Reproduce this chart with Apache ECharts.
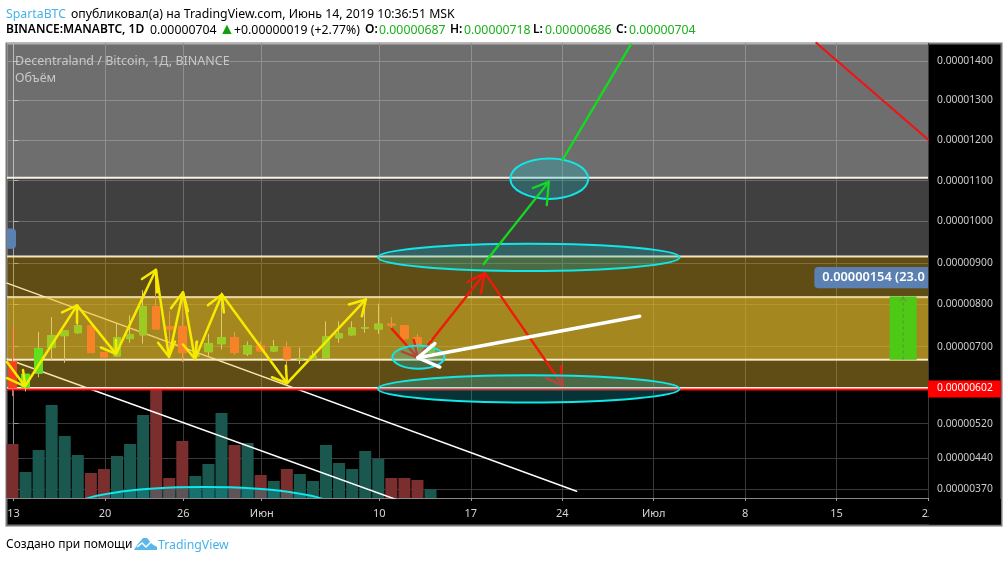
<!DOCTYPE html>
<html><head><meta charset="utf-8">
<style>html,body{margin:0;padding:0;background:#fff}#c{width:1008px;height:562px}</style>
<script src="https://cdn.jsdelivr.net/npm/echarts@6/dist/echarts.min.js"></script>
</head><body><div id="c"></div>
<script>
// ---- axis ticks
const priceTicks = [1400,1300,1200,1100,1000,900,800,700,520,440,370];
const lastPrice = 602;
const priceMin = 349.6, priceMax = 1446;
const timeTickDays = [0,7,13,19,28,35,42,49,56,63,70];
const timeTickLabels = ['13','20','26','Июн','10','17','24','Июл','8','15','22'];
// ---- candles: open, close, low, high (1e-8 BTC), day index from 13 May
const opens  = [664,604,638,698,726,733,749,686,678,719,728,795,747,747,678,688,707,721,683,702,690,698,671,671,674,721,728,744,742,753,749,721,687];
const closes = [604,635,695,726,737,749,686,676,721,728,795,742,742,686,681,707,721,686,702,690,700,671,672,678,723,730,744,745,753,751,719,702,704];
const lows   = [584,595,628,667,662,730,686,676,676,709,707,742,676,664,667,676,693,681,678,688,688,616,659,669,674,709,726,733,730,740,716,681,686];
const highs  = [749,635,735,770,737,798,749,686,756,774,834,883,784,829,712,730,829,735,712,712,716,712,698,690,760,760,760,810,802,770,751,730,718];
// ---- volume (relative units), direction flag
const volumes = [54,26,48,93,62,43,25,29,42,54,83,110,20,57,22,34,85,53,55,23,17,29,24,17,53,35,29,47,39,20,20,18,9];
const volumeDirs = ['d','u','u','u','u','u','d','d','u','u','u','d','d','d','u','u','u','d','u','d','u','d','u','u','u','u','u','u','u','d','d','d','u'];
// ---- price zones (edges, top to bottom)
const zoneEdges = [1446,1107,915,817,669,603];
const zoneFills = ['rgba(255,255,255,0.43)','rgba(255,255,255,0.25)','rgba(232,186,54,0.41)','rgba(232,190,44,0.71)','rgba(232,186,54,0.41)'];
// ---- drawings: [day, price]
const trendLineA = [[-0.5,851],[43.1,365]];
const trendLineB = [[-0.5,671],[29.4,345]];
const redDiagonal = [[61.46,1446],[70,1202]];
const yellowPath = [[-0.5,664],[0.88,607],[4.86,798],[7.84,683],[10.9,883],[11.9,676],[12.97,829],[13.89,671],[15.95,824],[20.93,614],[26.97,812]];
const yellowHeads = [
 [[-0.5,626],[0.88,607],[0.73,645]], [[3.71,781],[4.86,798],[4.86,756]],
 [[6.69,698],[7.84,683],[7.84,716]], [[9.83,861],[10.9,883],[10.98,829]],
 [[11.06,709],[11.9,676],[12.36,712]], [[12.05,791],[12.97,829],[13.35,784]],
 [[12.97,705],[13.89,671],[14.04,712]], [[14.88,798],[15.95,824],[16.1,781]],
 [[19.78,628],[20.93,614],[20.85,655]], [[25.67,800],[26.97,812],[26.66,772]]];
const redPath = [[[28.96,742],[30.95,674]],[[30.95,674],[36.08,875]],[[36.08,875],[42.04,609]]];
const redHeads = [[[29.72,688],[30.95,674],[30.64,716]],[[34.77,854],[36.08,875],[35.77,827]],[[40.74,626],[42.04,609],[41.89,654]]];
const whiteArrow = [[47.93,772],[30.95,674]];
const whiteHead = [[32.25,707],[30.95,674],[32.63,652]];
const greenArrow = [[35.99,897],[40.97,1097]];
const greenHead = [[39.75,1082],[40.97,1097],[40.82,1040]];
const greenLine = [[42.04,1152],[47.25,1442]];
// ---- ellipses: centre day, centre price, edge day, top price
const ellipses = [[41.01,1105,43.99,1155],[39.44,913,50.99,946],[39.44,601,50.99,633],[30.99,675,32.98,702],[14.58,329,24.52,374.5]];
// ---- measure tool
const measureBox = [67.06,819,69.13,669];
const measureMidDay = 68.1;
const measureLabel = [61.3,890,72,839,'0.00000154 (23.0'];
const leftTab = [-2,983,0.19,934];

// a mild curvature of the reference's price scale
const K = 20040;
const pos = v => v - v*v/K;
const inv = p => K/2*(1-Math.sqrt(1-4*p/K));
const map = pts => pts.map(([d,p]) => [d,pos(p)]);

const FONT = '"Noto Sans", sans-serif';
const barOffset = -0.08;           // bars sit a hair left of the date ticks
const days = opens.map((_,i)=>i);
const upC='#9ccb22', downC='#f88228', brightUp=[1,2], hotDown=[0];

function lineS(pts,color,width,z){
  return {type:'line',data:map(pts),xAxisIndex:0,yAxisIndex:0,symbol:'none',silent:true,animation:false,z,
    lineStyle:{color,width,cap:'round',join:'round'}};
}
const bodyData = days.map(i=>{
  const col = brightUp.includes(i)?'#5fe21e':hotDown.includes(i)?'#f4431c':(closes[i]>=opens[i]?upC:downC);
  return {value:[i+barOffset,pos(opens[i]),pos(closes[i]),pos(Math.min(opens[i],closes[i])),pos(Math.max(opens[i],closes[i]))],
    itemStyle:{color:col,color0:col,borderColor:col,borderColor0:col}};
});
const wickData = days.map(i=>{
  const col = hotDown.includes(i)?'#f85a40':(closes[i]>=opens[i]?'#dccb6c':'#f09a48');
  return {value:[i+barOffset,pos(opens[i]),pos(closes[i]),pos(lows[i]),pos(highs[i])],
    itemStyle:{color:col,color0:col,borderColor:col,borderColor0:col}};
});

const series = [
  {type:'bar',xAxisIndex:0,yAxisIndex:1,barWidth:12,z:1,animation:false,silent:true,
   data:days.map(i=>({value:[i+barOffset,volumes[i]],itemStyle:{color:volumeDirs[i]==='u'?'#19574f':'#7a2e2e'}}))},
  lineS(trendLineA,'#ffffff',1.5,1), lineS(trendLineB,'#ffffff',1.5,1),
  // zones
  {type:'custom',xAxisIndex:0,yAxisIndex:0,z:2,animation:false,silent:true,clip:true,
   data:zoneFills.map((f,i)=>[-0.5,pos(zoneEdges[i]),70,pos(zoneEdges[i+1])]),
   encode:{x:[0,2],y:[1,3]},
   renderItem:(params,api)=>{
     const a=api.coord([api.value(0),api.value(1)]), b=api.coord([api.value(2),api.value(3)]);
     const i=params.dataIndex;
     return {type:'group',children:[
       {type:'rect',shape:{x:a[0],y:a[1],width:b[0]-a[0],height:b[1]-a[1]},style:{fill:zoneFills[i]}},
       {type:'line',shape:{x1:a[0],y1:b[1],x2:b[0],y2:b[1]},style:{stroke:'#f7f2e4',lineWidth:2}}
     ]};
   }},
  // last price line
  {type:'line',data:map([[-0.5,599.5],[70,599.5]]),symbol:'none',z:2,animation:false,silent:true,lineStyle:{color:'#ff0a0a',width:2}},
  {type:'candlestick',xAxisIndex:0,yAxisIndex:0,barWidth:8,z:3,animation:false,silent:true,encode:{x:0,y:[1,2,3,4]},data:wickData,itemStyle:{borderWidth:1}},
  {type:'candlestick',xAxisIndex:0,yAxisIndex:0,barWidth:8,z:3,animation:false,silent:true,encode:{x:0,y:[1,2,3,4]},data:bodyData,itemStyle:{borderWidth:1}},
  // measure tool
  {type:'custom',xAxisIndex:0,yAxisIndex:0,z:3,animation:false,silent:true,clip:true,data:[measureBox],encode:{x:[0,2],y:[1,3]},
   renderItem:(params,api)=>{
     const a=api.coord([measureBox[0],pos(measureBox[1])]), b=api.coord([measureBox[2],pos(measureBox[3])]);
     const m=api.coord([measureMidDay,pos(measureBox[1])]), n=api.coord([measureMidDay,pos(measureBox[3])]);
     return {type:'group',children:[
       {type:'rect',shape:{x:a[0],y:a[1],width:b[0]-a[0],height:b[1]-a[1]},style:{fill:'#4dc916'}},
       {type:'line',shape:{x1:m[0],y1:m[1],x2:n[0],y2:n[1]},style:{stroke:'#5f8f3c',lineWidth:1,lineDash:[3,3]}},
       {type:'polyline',shape:{points:[[m[0]-3,m[1]+5],[m[0],m[1]+1],[m[0]+3,m[1]+5]]},style:{stroke:'#5f8f3c',fill:'none',lineWidth:1}}
     ]};
   }},
  {type:'custom',xAxisIndex:0,yAxisIndex:0,z:4,animation:false,silent:true,clip:true,data:[measureLabel.slice(0,4),leftTab],encode:{x:[0,2],y:[1,3]},
   renderItem:(params,api)=>{
     const a=api.coord([api.value(0),pos(api.value(1))]), b=api.coord([api.value(2),pos(api.value(3))]);
     const kids=[{type:'rect',shape:{x:a[0],y:a[1],width:b[0]-a[0],height:b[1]-a[1],r:4},style:{fill:'#5b81b3'}}];
     if(params.dataIndex===0) kids.push({type:'text',x:a[0]+8,y:(a[1]+b[1])/2,style:{text:measureLabel[4],fill:'#fff',font:'600 12.8px '+FONT,textVerticalAlign:'middle'}});
     return {type:'group',children:kids};
   }},
  lineS(yellowPath,'#f6ea00',2.5,4),
  ...yellowHeads.map(h=>lineS(h,'#f6ea00',2.5,4)),
  lineS(redDiagonal,'#f01414',2.2,4),
  ...redPath.map(h=>lineS(h,'#f01a08',2.4,4)),
  ...redHeads.map(h=>lineS(h,'#f01a08',2.4,4)),
  // ellipses
  {type:'custom',xAxisIndex:0,yAxisIndex:0,z:5,animation:false,silent:true,clip:true,data:ellipses.map(e=>[e[0],pos(e[1]),e[2],pos(e[3])]),encode:{x:[0,2],y:[1,3]},
   renderItem:(params,api)=>{
     const c=api.coord([api.value(0),api.value(1)]), e=api.coord([api.value(2),api.value(3)]);
     return {type:'ellipse',shape:{cx:c[0],cy:c[1],rx:Math.abs(e[0]-c[0]),ry:Math.abs(e[1]-c[1])},
       style:{fill:'rgba(20,190,200,0.27)',stroke:'#12e6e6',lineWidth:2}};
   }},
  lineS(greenArrow,'#12dc1e',2.3,6), lineS(greenHead,'#12dc1e',2.3,6), lineS(greenLine,'#12dc1e',2.3,6),
  lineS(whiteArrow,'#ffffff',3.5,6), lineS(whiteHead,'#ffffff',3.5,6),
  // last-price tag on the axis
  {type:'custom',xAxisIndex:0,yAxisIndex:0,z:8,animation:false,silent:true,clip:false,data:[[70,pos(lastPrice)]],encode:{x:0,y:1},
   renderItem:(params,api)=>{
     const c=api.coord([api.value(0),api.value(1)]);
     return {type:'group',children:[
       {type:'rect',shape:{x:c[0],y:c[1]-8,width:73,height:17},style:{fill:'#ff0000'}},
       {type:'text',x:c[0]+9,y:c[1],style:{text:'0.00000'+lastPrice,fill:'#fff',font:'10.3px '+FONT,textVerticalAlign:'middle'}}
     ]};
   }}
];

const F12='12.3px '+FONT;
const t=(x,y,text,fill,font)=>({type:'text',x,y,z:20,style:{text,fill:fill||'#000',font:font||F12,textVerticalAlign:'middle'}});
const B='600 12px '+FONT, G='#1ab01a';
const graphic=[
  {type:'rect',z:-10,shape:{x:6.5,y:43.5,width:995,height:482},style:{fill:'#000',stroke:'#777',lineWidth:2}},
  {type:'rect',z:20,shape:{x:929,y:499,width:72,height:25.5},style:{fill:'#000'}},
  t(6,14,'SpartaBTC','#47b2ea'), t(71,14,'опубликовал(а) на TradingView.com, Июнь 14, 2019 10:36:51 MSK'),
  t(6,30,'BINANCE:MANABTC, 1D','#000',B), t(150,30,'0.00000704'), t(219,29,'▲','#0f9f0f','16px '+FONT), t(234,30,'+0.00000019 (+2.77%)'),
  t(365,30,'O:','#000',B), t(379,30,'0.00000687',G), t(450,30,'H:','#000',B), t(464,30,'0.00000718',G),
  t(533,30,'L:','#000',B), t(545,30,'0.00000686',G), t(616,30,'C:','#000',B), t(629,30,'0.00000704',G),
  t(15,61,'Decentraland / Bitcoin, 1Д, BINANCE','#c8c8c8','12.5px '+FONT), t(15,78,'Объём','#c8c8c8','12.5px '+FONT),
  t(6,545,'Создано при помощи','#000','12px '+FONT),
  {type:'polygon',z:20,shape:{points:[[134,550],[137,545],[143,538],[147,538],[152,544],[157,547],[157,550]]},style:{fill:'#5ab8e8'}},
  {type:'polyline',z:21,shape:{points:[[137,547],[142,543],[146,547],[151,542]]},style:{stroke:'#fff',lineWidth:1.5,fill:'none'}},
  t(158,545,'TradingView','#47b2ea')
];

const option={
  backgroundColor:'#fff',animation:false,
  grid:{left:7,top:43,width:921,height:455,containLabel:false,show:false},
  xAxis:{type:'value',min:-0.5,max:70,
    axisLine:{show:true,lineStyle:{color:'#888',width:1}},
    axisTick:{show:true,length:3,customValues:timeTickDays,lineStyle:{color:'#999'}},
    splitLine:{show:true,lineStyle:{color:'#3a3a3a',width:1}},
    axisLabel:{customValues:timeTickDays,color:'#d4d4d4',fontFamily:FONT,fontSize:11,margin:10,hideOverlap:false,showMinLabel:true,showMaxLabel:true,
      formatter:v=>timeTickLabels[timeTickDays.indexOf(v)]}},
  yAxis:[
    {type:'value',position:'right',min:pos(priceMin),max:pos(priceMax),
     axisLine:{show:true,lineStyle:{color:'#888',width:1}},
     axisTick:{show:true,length:5,customValues:priceTicks.map(pos),lineStyle:{color:'#999'}},
     splitLine:{show:true,lineStyle:{color:'#3a3a3a',width:1}},
     axisLabel:{customValues:priceTicks.map(pos),color:'#cccccc',fontFamily:FONT,fontSize:10.3,margin:9,padding:[2,0,0,0],
       formatter:v=>'0.0000'+String(Math.round(inv(v))).padStart(4,'0')}},
    {type:'value',min:0,max:455,show:false,splitLine:{show:false}}
  ],
  series,graphic
};
const chart=echarts.init(document.getElementById('c'),null,{renderer:'canvas'});
chart.setOption(option);
</script></body></html>
